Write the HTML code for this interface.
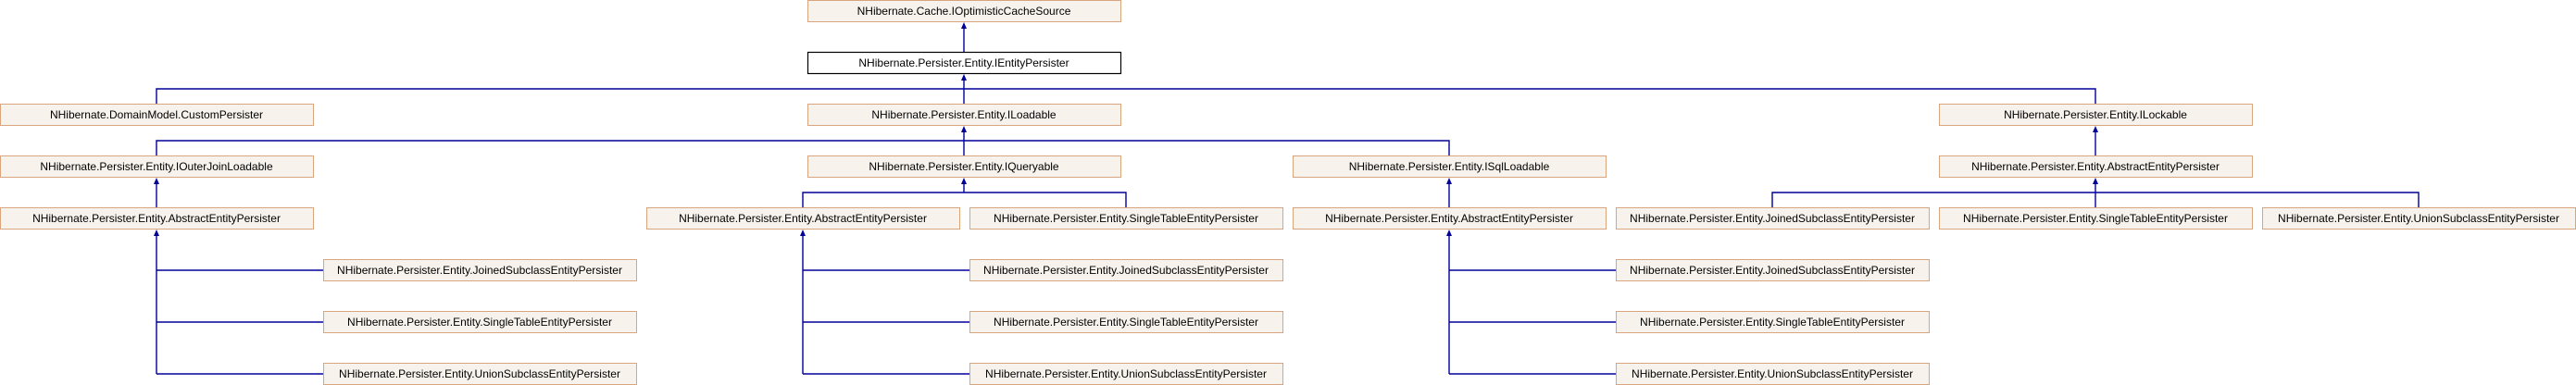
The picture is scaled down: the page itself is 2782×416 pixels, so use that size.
<!DOCTYPE html>
<html><head><meta charset="utf-8"><style>
html,body{margin:0;padding:0;background:#fff;}
svg{display:block;}
text{font-family:"Liberation Sans",Arial,sans-serif;font-size:12px;fill:#000;}
</style></head><body>
<svg width="2782" height="416" viewBox="0 0 2782 416" xmlns="http://www.w3.org/2000/svg">
<defs>
<marker id="a" markerWidth="6" markerHeight="6" refX="3" refY="0" orient="auto" markerUnits="userSpaceOnUse"></marker>
</defs>
<g stroke="#000099" stroke-width="1.4" fill="none">
<!-- top -->
<line x1="1041" y1="56" x2="1041" y2="28"/>
<!-- row2 bus -->
<polyline points="169,112 169,96 2263,96 2263,112"/>
<line x1="1041" y1="112" x2="1041" y2="84"/>
<!-- row3 bus -->
<polyline points="169,168 169,152 1565,152 1565,168"/>
<line x1="1041" y1="168" x2="1041" y2="140"/>
<line x1="2263" y1="168" x2="2263" y2="140"/>
<!-- row4 -->
<line x1="169" y1="224" x2="169" y2="196"/>
<polyline points="867,224 867,208 1216,208 1216,224"/>
<line x1="1041" y1="208" x2="1041" y2="196"/>
<line x1="1565" y1="224" x2="1565" y2="196"/>
<polyline points="1914,224 1914,208 2612,208 2612,224"/>
<line x1="2263" y1="224" x2="2263" y2="196"/>
<!-- side trees -->
<line x1="169" y1="252" x2="169" y2="404"/>
<line x1="169" y1="292" x2="349" y2="292"/><line x1="169" y1="348" x2="349" y2="348"/><line x1="169" y1="404" x2="349" y2="404"/>
<line x1="867" y1="252" x2="867" y2="404"/>
<line x1="867" y1="292" x2="1047" y2="292"/><line x1="867" y1="348" x2="1047" y2="348"/><line x1="867" y1="404" x2="1047" y2="404"/>
<line x1="1565" y1="252" x2="1565" y2="404"/>
<line x1="1565" y1="292" x2="1745" y2="292"/><line x1="1565" y1="348" x2="1745" y2="348"/><line x1="1565" y1="404" x2="1745" y2="404"/>
</g>
<g fill="#000099">
<polygon points="1041,24 1038,31 1044,31"/>
<polygon points="1041,80 1038,87 1044,87"/>
<polygon points="1041,136 1038,143 1044,143"/>
<polygon points="2263,136 2260,143 2266,143"/>
<polygon points="169,192 166,199 172,199"/>
<polygon points="1041,192 1038,199 1044,199"/>
<polygon points="1565,192 1562,199 1568,199"/>
<polygon points="2263,192 2260,199 2266,199"/>
<polygon points="169,248 166,255 172,255"/>
<polygon points="867,248 864,255 870,255"/>
<polygon points="1565,248 1562,255 1568,255"/>
</g>
<g stroke="#d8a67e" stroke-width="1" fill="#f7f2ec">
<rect x="872.5" y="0.5" width="338" height="23"/>
<rect x="0.5" y="112.5" width="338" height="23"/>
<rect x="872.5" y="112.5" width="338" height="23"/>
<rect x="2094.5" y="112.5" width="338" height="23"/>
<rect x="0.5" y="168.5" width="338" height="23"/>
<rect x="872.5" y="168.5" width="338" height="23"/>
<rect x="1396.5" y="168.5" width="338" height="23"/>
<rect x="2094.5" y="168.5" width="338" height="23"/>
<rect x="0.5" y="224.5" width="338" height="23"/>
<rect x="698.5" y="224.5" width="338" height="23"/>
<rect x="1047.5" y="224.5" width="338" height="23"/>
<rect x="1396.5" y="224.5" width="338" height="23"/>
<rect x="1745.5" y="224.5" width="338" height="23"/>
<rect x="2094.5" y="224.5" width="338" height="23"/>
<rect x="2443.5" y="224.5" width="338" height="23"/>
<rect x="349.5" y="280.5" width="338" height="23"/>
<rect x="1047.5" y="280.5" width="338" height="23"/>
<rect x="1745.5" y="280.5" width="338" height="23"/>
<rect x="349.5" y="336.5" width="338" height="23"/>
<rect x="1047.5" y="336.5" width="338" height="23"/>
<rect x="1745.5" y="336.5" width="338" height="23"/>
<rect x="349.5" y="392.5" width="338" height="23"/>
<rect x="1047.5" y="392.5" width="338" height="23"/>
<rect x="1745.5" y="392.5" width="338" height="23"/>
</g>
<rect x="872.5" y="56.5" width="338" height="23" fill="#fff" stroke="#000" stroke-width="1.2"/>
<g text-anchor="middle">
<text x="1041" y="16">NHibernate.Cache.IOptimisticCacheSource</text>
<text x="1041" y="72">NHibernate.Persister.Entity.IEntityPersister</text>
<text x="169" y="128">NHibernate.DomainModel.CustomPersister</text>
<text x="1041" y="128">NHibernate.Persister.Entity.ILoadable</text>
<text x="2263" y="128">NHibernate.Persister.Entity.ILockable</text>
<text x="169" y="184">NHibernate.Persister.Entity.IOuterJoinLoadable</text>
<text x="1041" y="184">NHibernate.Persister.Entity.IQueryable</text>
<text x="1565" y="184">NHibernate.Persister.Entity.ISqlLoadable</text>
<text x="2263" y="184">NHibernate.Persister.Entity.AbstractEntityPersister</text>
<text x="169" y="240">NHibernate.Persister.Entity.AbstractEntityPersister</text>
<text x="867" y="240">NHibernate.Persister.Entity.AbstractEntityPersister</text>
<text x="1216" y="240">NHibernate.Persister.Entity.SingleTableEntityPersister</text>
<text x="1565" y="240">NHibernate.Persister.Entity.AbstractEntityPersister</text>
<text x="1914" y="240">NHibernate.Persister.Entity.JoinedSubclassEntityPersister</text>
<text x="2263" y="240">NHibernate.Persister.Entity.SingleTableEntityPersister</text>
<text x="2612" y="240">NHibernate.Persister.Entity.UnionSubclassEntityPersister</text>
<text x="518" y="296">NHibernate.Persister.Entity.JoinedSubclassEntityPersister</text>
<text x="1216" y="296">NHibernate.Persister.Entity.JoinedSubclassEntityPersister</text>
<text x="1914" y="296">NHibernate.Persister.Entity.JoinedSubclassEntityPersister</text>
<text x="518" y="352">NHibernate.Persister.Entity.SingleTableEntityPersister</text>
<text x="1216" y="352">NHibernate.Persister.Entity.SingleTableEntityPersister</text>
<text x="1914" y="352">NHibernate.Persister.Entity.SingleTableEntityPersister</text>
<text x="518" y="408">NHibernate.Persister.Entity.UnionSubclassEntityPersister</text>
<text x="1216" y="408">NHibernate.Persister.Entity.UnionSubclassEntityPersister</text>
<text x="1914" y="408">NHibernate.Persister.Entity.UnionSubclassEntityPersister</text>
</g>
</svg>
</body></html>
